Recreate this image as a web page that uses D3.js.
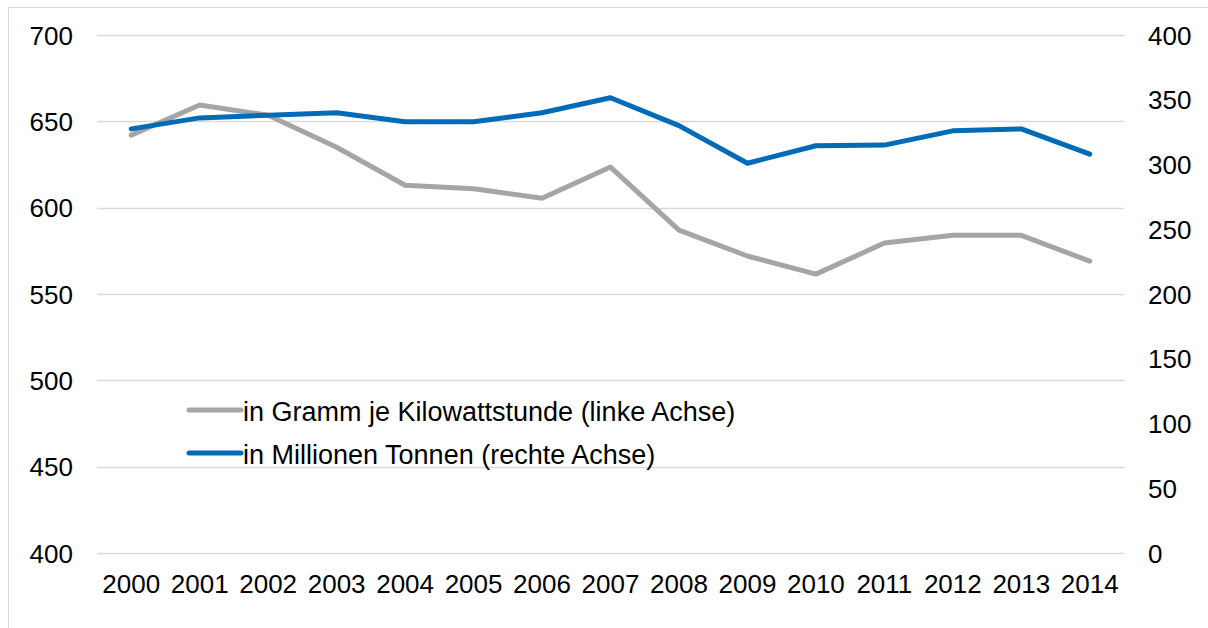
<!DOCTYPE html>
<html>
<head>
<meta charset="utf-8">
<script src="https://cdn.jsdelivr.net/npm/d3@7"></script>
<style>
  body { margin: 0; background: #fff; }
  svg text { font-family: "Liberation Sans", Arial, sans-serif; fill: #000; }
</style>
</head>
<body>
<svg id="chart"></svg>
<script>
// data
var years = ["2000", "2001", "2002", "2003", "2004", "2005", "2006", "2007",
             "2008", "2009", "2010", "2011", "2012", "2013", "2014"];
var gramPerKwh = [642, 659.5, 653.5, 635, 613, 611, 605.5, 623.5, 587, 572, 561.5, 579.5, 584, 584, 569];
var millionTons = [327.5, 336, 338, 340, 333, 333, 340, 351.5, 330, 301, 314.5, 315, 326, 327.5, 308];
var leftTicks = [400, 450, 500, 550, 600, 650, 700];
var rightTicks = [0, 50, 100, 150, 200, 250, 300, 350, 400];
var legendLabels = ["in Gramm je Kilowattstunde (linke Achse)", "in Millionen Tonnen (rechte Achse)"];

var width = 1208, height = 628;
var plot = { left: 97, right: 1124, top: 35, bottom: 553 };
var grey = "#A5A5A5", blue = "#006BB6";
var fontSize = "26px";

var svg = d3.select("#chart")
    .attr("width", width)
    .attr("height", height);

// outer frame
svg.append("rect")
    .attr("x", 8.5).attr("y", 7.5)
    .attr("width", width + 10).attr("height", height + 10)
    .attr("fill", "none")
    .attr("stroke", "#D9D9D9");

var x = d3.scaleBand()
    .domain(years)
    .range([plot.left, plot.right]);

var yLeft = d3.scaleLinear()
    .domain([400, 700])
    .range([plot.bottom, plot.top]);

var yRight = d3.scaleLinear()
    .domain([0, 400])
    .range([plot.bottom, plot.top]);

// gridlines
svg.append("g")
    .selectAll("line")
    .data(leftTicks)
    .enter()
    .append("line")
    .attr("x1", plot.left).attr("x2", plot.right)
    .attr("y1", function (d) { return Math.round(yLeft(d)) + 0.5; })
    .attr("y2", function (d) { return Math.round(yLeft(d)) + 0.5; })
    .attr("stroke", "#D9D9D9")
    .attr("stroke-width", 1.5);

// left axis
var leftAxis = svg.append("g")
    .attr("transform", "translate(" + (plot.left - 24) + ",0)")
    .call(d3.axisLeft(yLeft).tickValues(leftTicks).tickSize(0).tickPadding(0));
leftAxis.select(".domain").remove();
leftAxis.selectAll("text").style("font-size", fontSize).attr("dy", "0.35em");

// right axis
var rightAxis = svg.append("g")
    .attr("transform", "translate(" + (plot.right + 24) + ",0)")
    .call(d3.axisRight(yRight).tickValues(rightTicks).tickSize(0).tickPadding(0));
rightAxis.select(".domain").remove();
rightAxis.selectAll("text").style("font-size", fontSize).attr("dy", "0.35em");

// x axis (text baseline at 593)
var xAxis = svg.append("g")
    .attr("transform", "translate(0,593)")
    .call(d3.axisBottom(x).tickSize(0).tickPadding(0));
xAxis.select(".domain").remove();
xAxis.selectAll("text").style("font-size", fontSize).attr("dy", 0);

// lines
var cx = function (d, i) { return x(years[i]) + x.bandwidth() / 2; };

svg.append("path")
    .datum(gramPerKwh)
    .attr("fill", "none")
    .attr("stroke", grey)
    .attr("stroke-width", 5)
    .attr("stroke-linejoin", "round")
    .attr("stroke-linecap", "round")
    .attr("d", d3.line().x(cx).y(function (d) { return yLeft(d); }));

svg.append("path")
    .datum(millionTons)
    .attr("fill", "none")
    .attr("stroke", blue)
    .attr("stroke-width", 5)
    .attr("stroke-linejoin", "round")
    .attr("stroke-linecap", "round")
    .attr("d", d3.line().x(cx).y(function (d) { return yRight(d); }));

// legend
var legend = svg.append("g")
    .selectAll("g")
    .data(legendLabels)
    .enter()
    .append("g")
    .attr("transform", function (d, i) { return "translate(189," + (410 + i * 43) + ")"; });

legend.append("line")
    .attr("x1", 0).attr("x2", 52)
    .attr("stroke", function (d, i) { return i === 0 ? grey : blue; })
    .attr("stroke-width", 5)
    .attr("stroke-linecap", "round");

legend.append("text")
    .attr("x", 54)
    .attr("y", 11)
    .style("font-size", "27px")
    .text(function (d) { return d; });
</script>
</body>
</html>
